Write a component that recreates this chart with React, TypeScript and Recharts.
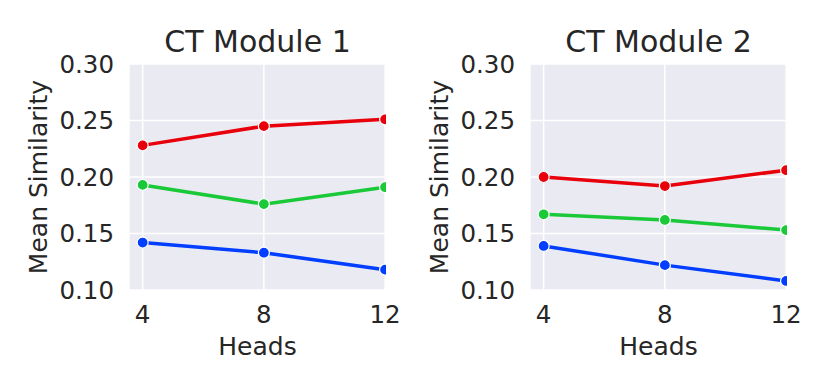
import { LineChart, Line, XAxis, YAxis, CartesianGrid, Label } from 'recharts'

const heads = [4, 8, 12]
const yTicks = [0.1, 0.15, 0.2, 0.25, 0.3]

// CT Module 1
const m1Red = [0.228, 0.245, 0.251]
const m1Green = [0.193, 0.176, 0.191]
const m1Blue = [0.142, 0.133, 0.118]

// CT Module 2
const m2Red = [0.2, 0.192, 0.206]
const m2Green = [0.167, 0.162, 0.153]
const m2Blue = [0.139, 0.122, 0.108]

const FONT = 'DejaVu Sans, sans-serif'
const TEXT = '#262626'
const colors = { red: '#e8000b', green: '#1ac938', blue: '#023eff' }

const toRows = (r: number[], g: number[], b: number[]) =>
  heads.map((h, i) => ({ heads: h, red: r[i], green: g[i], blue: b[i] }))

interface PanelProps {
  title: string
  rows: { heads: number; red: number; green: number; blue: number }[]
  left: number
  width: number
  yAxisWidth: number
  marginRight: number
  labelX: number
}

function Panel({ title, rows, left, width, yAxisWidth, marginRight, labelX }: PanelProps) {
  const tick = { fill: TEXT, fontSize: 24.5, fontFamily: FONT }
  return (
    <div style={{ position: 'absolute', left, top: 0, width, height: 389 }}>
      <div
        style={{
          position: 'absolute',
          left: yAxisWidth,
          width: width - yAxisWidth - marginRight,
          top: 24,
          textAlign: 'center',
          fontFamily: FONT,
          fontSize: 30,
          color: TEXT,
          lineHeight: '36px',
        }}
      >
        {title}
      </div>
      <LineChart
        width={width}
        height={389}
        data={rows}
        margin={{ top: 64, right: marginRight, bottom: 0, left: 0 }}
      >
        <CartesianGrid fill="#eaeaf2" stroke="#ffffff" strokeWidth={1.5} />
        <XAxis
          dataKey="heads"
          type="number"
          domain={[3.55, 12.03]}
          allowDataOverflow
          ticks={heads}
          height={99}
          axisLine={false}
          tickLine={false}
          tickMargin={10}
          tick={tick}
        >
          <Label
            content={({ viewBox }: any) => (
              <text
                x={viewBox.x + viewBox.width / 2}
                y={355}
                textAnchor="middle"
                fill={TEXT}
                fontSize={25}
                fontFamily={FONT}
              >
                Heads
              </text>
            )}
          />
        </XAxis>
        <YAxis
          type="number"
          domain={[0.1, 0.3]}
          ticks={yTicks}
          width={yAxisWidth}
          axisLine={false}
          tickLine={false}
          tickMargin={9}
          tick={tick}
          tickFormatter={(v: number) => v.toFixed(2)}
        >
          <Label
            content={({ viewBox }: any) => {
              const cy = viewBox.y + viewBox.height / 2
              return (
                <text
                  x={labelX}
                  y={cy}
                  transform={`rotate(-90, ${labelX}, ${cy})`}
                  textAnchor="middle"
                  dominantBaseline="central"
                  fill={TEXT}
                  fontSize={25}
                  fontFamily={FONT}
                >
                  Mean Similarity
                </text>
              )
            }}
          />
        </YAxis>
        {(['red', 'green', 'blue'] as const).map((k) => (
          <Line
            key={k}
            dataKey={k}
            stroke={colors[k]}
            strokeWidth={3.5}
            dot={{ r: 5.5, fill: colors[k], stroke: '#ffffff', strokeWidth: 1.2 }}
            activeDot={false}
            isAnimationActive={false}
          />
        ))}
      </LineChart>
    </div>
  )
}

export default function App() {
  return (
    <div style={{ position: 'absolute', left: 0, top: 0, width: 830, height: 389, background: '#ffffff' }}>
      <Panel
        title="CT Module 1"
        rows={toRows(m1Red, m1Green, m1Blue)}
        left={0}
        width={415}
        yAxisWidth={129}
        marginRight={29}
        labelX={38}
      />
      <Panel
        title="CT Module 2"
        rows={toRows(m2Red, m2Green, m2Blue)}
        left={410}
        width={420}
        yAxisWidth={120}
        marginRight={43}
        labelX={29}
      />
    </div>
  )
}
